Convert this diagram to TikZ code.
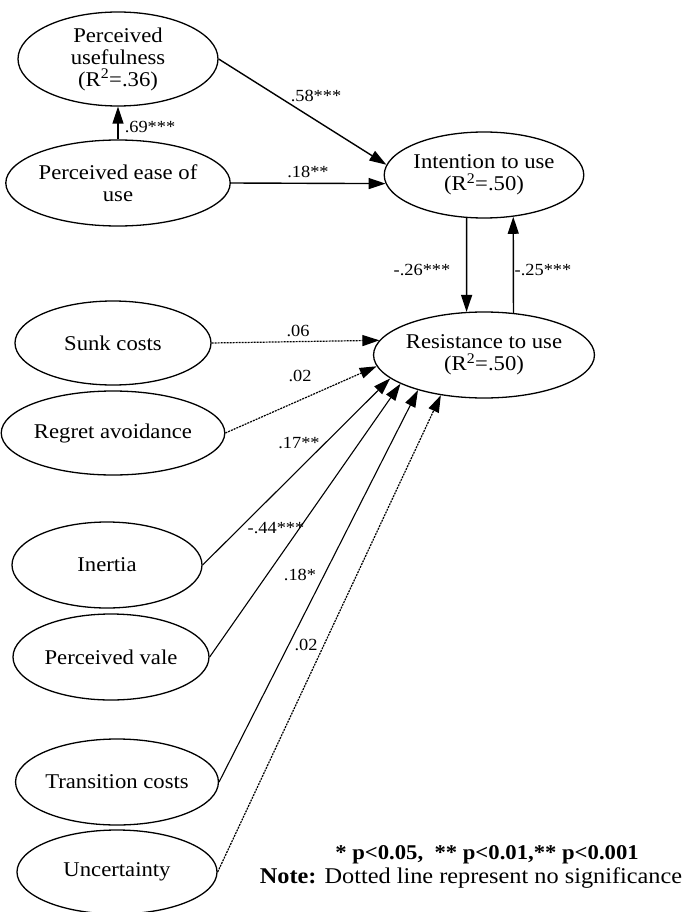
\documentclass[tikz,border=0pt]{standalone}
\usepackage{fontspec}
\setmainfont{Liberation Serif}[FakeStretch=1.08]
\usetikzlibrary{shapes.geometric,arrows.meta}
\begin{document}
\begin{tikzpicture}[x=1pt,y=-1pt,
  lat/.style={draw,ellipse,line width=1.3pt,inner sep=0pt,align=center,font=\fontsize{21}{22}\selectfont},
  pth/.style={line width=1.4pt,-{Triangle[length=17pt,width=11pt]}},
  pthb/.style={line width=1.1pt,-{Triangle[length=17pt,width=11pt]}},
  ns/.style={line width=1.2pt,dash pattern=on 2pt off 1pt,-{Triangle[length=17pt,width=11pt]}},
  lbl/.style={font=\fontsize{17}{18}\selectfont,inner sep=1pt}]
\useasboundingbox (0,0) rectangle (688,912);
% latent variables
\node[lat,minimum width=200pt,minimum height=94pt] (pu) at (118,59) {Perceived\\usefulness\\(R\textsuperscript{2}=.36)};
\node[lat,minimum width=200pt,minimum height=86pt] (peou) at (118,183) {Perceived ease of\\use};
\node[lat,minimum width=196pt,minimum height=86pt] (itu) at (484,175) {Intention to use\\(R\textsuperscript{2}=.50)};
\node[lat,minimum width=196pt,minimum height=86pt] (rtu) at (484,355) {Resistance to use\\(R\textsuperscript{2}=.50)};
\node[lat,minimum width=196pt,minimum height=84pt] (sc) at (113,343) {Sunk costs};
\node[lat,minimum width=196pt,minimum height=84pt] (ra) at (113,433) {Regret avoidance};
\node[lat,minimum width=190pt,minimum height=86pt] (in) at (107,565) {Inertia};
\node[lat,minimum width=196pt,minimum height=86pt] (pv) at (111,657) {Perceived vale};
\node[lat,minimum width=200pt,minimum height=86pt] (tc) at (117,782) {Transition costs};
\node[lat,minimum width=200pt,minimum height=84pt] (un) at (117,872) {Uncertainty};
% paths
\draw[pth] (peou.north) -- (pu.south);
\draw[pth] (pu.east) -- (itu.174);
\draw[pth] (peou.east) -- (itu.185);
\draw[pth] (itu.248) -- (rtu.112);
\draw[pth] (rtu.55) -- (itu.305);
\draw[ns] (sc.east) -- (rtu.172);
\draw[ns] (ra.east) -- (rtu.186);
\draw[pthb] (in.east) -- (rtu.194);
\draw[pthb] (pv.east) -- (rtu.199);
\draw[pthb] (tc.east) -- (rtu.208);
\draw[ns] (un.east) -- (rtu.223);
% labels
\node[lbl] (l1) at (150,127) {.69***};
\node[lbl] (l2) at (316,96) {.58***};
\node[lbl] (l3) at (308,172) {.18**};
\node[lbl] (l4) at (422,270) {-.26***};
\node[lbl] (l5) at (543,270) {-.25***};
\node[lbl] (l6) at (298,331) {.06};
\node[lbl] (l7) at (300,376) {.02};
\node[lbl] (l8) at (299,443) {.17**};
\node[lbl] (l9) at (276,528) {-.44***};
\node[lbl] (l10) at (300,575) {.18*};
\node[lbl] (l11) at (306,645) {.02};
% legend
\node[font=\fontsize{21}{22}\selectfont\bfseries] (lg1) at (487,855) {* p<0.05,\ \ ** p<0.01,** p<0.001};
\node[font=\fontsize{22.5}{24}\selectfont] (lg2) at (471,878) {\textbf{Note:} Dotted line represent no significance};
\end{tikzpicture}
\end{document}
